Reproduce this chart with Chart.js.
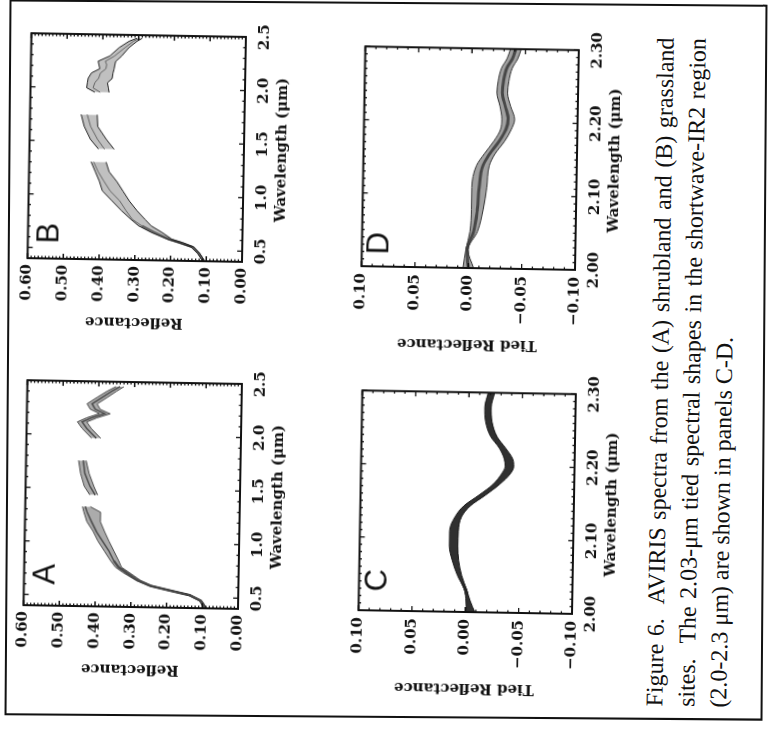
<!DOCTYPE html>
<html>
<head>
<meta charset="utf-8">
<script src="https://cdn.jsdelivr.net/npm/chart.js"></script>
<style>
html, body { margin: 0; padding: 0; background: #fff; overflow: hidden; }
#page { position: absolute; left: 0; top: 0; width: 729px; height: 770px;
        transform-origin: 0 0; transform: translate(0, 729px) rotate(-90deg); }
.panel { position: absolute; width: 345px; height: 278px;
         transform: rotate(1deg); transform-origin: 209px 119px; }
.panel canvas { position: absolute; left: 0; top: 0; }
.letter { position: absolute; font: 31px/1 "Liberation Sans", Arial, sans-serif; color: #111; }
#frame { position: absolute; left: 11px; top: 7px; width: 716px; height: 758px; box-sizing: border-box;
         border: 2px solid #111; transform: rotate(0.4deg); }
#caption { position: absolute; left: 22px; top: 644px; width: 669px; color: #111;
           font: 24px/32px "Liberation Serif", "Times New Roman", serif; white-space: nowrap;
           transform: rotate(1deg); transform-origin: 335px 48px; }
#caption .j { text-align: justify; text-align-last: justify; }
</style>
</head>
<body>
<div id="page">
  <div id="frame"></div>
  <div class="panel" style="left:27px;top:11.5px"><canvas id="chartA" width="345" height="278"></canvas><div class="letter" style="left:116px;top:18px">A</div></div>
  <div class="panel" style="left:374px;top:16px"><canvas id="chartB" width="345" height="278"></canvas><div class="letter" style="left:110px;top:18px">B</div></div>
  <div class="panel" style="left:22px;top:346px"><canvas id="chartC" width="345" height="278"></canvas><div class="letter" style="left:114px;top:16px">C</div></div>
  <div class="panel" style="left:365.5px;top:349px"><canvas id="chartD" width="345" height="278"></canvas><div class="letter" style="left:107px;top:15px">D</div></div>
  <div id="caption">
    <div class="j">Figure 6.&nbsp; AVIRIS spectra from the (A) shrubland and (B) grassland</div>
    <div class="j">sites.&nbsp; The 2.03-μm tied spectral shapes in the shortwave-IR2 region</div>
    <div>(2.0-2.3 μm) are shown in panels C-D.</div>
  </div>
</div>
<script>
// values (null = water absorption gaps)

// panel A, shrubland
const wlA = [0.40, 0.47, 0.52, 0.56, 0.60, 0.65, 0.72, 0.77, 0.83, 0.92, 1.01, 1.10, 1.19, 1.28, 1.33,
             1.39, 1.44, 1.52, 1.64, 1.76, 1.88, 1.97, 2.06, 2.12, 2.16, 2.20, 2.24, 2.29, 2.35, 2.41, 2.455];
const midA = [0.091, 0.105, 0.136, 0.191, 0.245, 0.282, 0.314, 0.336, 0.350, 0.364, 0.382, 0.400, 0.414, 0.427, 0.432,
              null, 0.405, 0.420, 0.435, 0.440, null, 0.405, 0.432, 0.445, 0.418, 0.382, 0.409, 0.418, 0.391, 0.364, 0.341];
const upperA = [0.095, 0.109, 0.140, 0.196, 0.250, 0.287, 0.323, 0.345, 0.359, 0.377, 0.395, 0.409, 0.427, 0.436, 0.440,
                null, 0.420, 0.436, 0.447, 0.453, null, 0.418, 0.445, 0.458, 0.432, 0.397, 0.423, 0.432, 0.405, 0.377, 0.352];
const lowerA = [0.087, 0.101, 0.132, 0.186, 0.240, 0.274, 0.305, 0.328, 0.336, 0.350, 0.364, 0.377, 0.389, 0.389, 0.418,
                null, 0.398, 0.409, 0.423, 0.432, null, 0.392, 0.419, 0.432, 0.404, 0.367, 0.395, 0.404, 0.377, 0.351, 0.330];

// panel B, grassland
const wlB = [0.40, 0.47, 0.53, 0.57, 0.60, 0.66, 0.72, 0.78, 0.86, 0.95, 1.04, 1.13, 1.22, 1.31,
             1.37, 1.43, 1.52, 1.64, 1.75, 1.86, 1.96, 2.00, 2.05, 2.09, 2.14, 2.18, 2.22, 2.25, 2.30, 2.38, 2.44, 2.47];
const midB = [0.107, 0.121, 0.139, 0.175, 0.205, 0.246, 0.282, 0.309, 0.327, 0.345, 0.372, 0.390, 0.407, 0.420,
              null, 0.390, 0.410, 0.430, 0.440, null, 0.405, 0.425, 0.420, 0.410, 0.405, 0.390, 0.388, 0.392, 0.367, 0.338, 0.315, 0.298];
const upperB = [0.110, 0.124, 0.143, 0.179, 0.210, 0.255, 0.291, 0.313, 0.340, 0.367, 0.394, 0.403, 0.415, 0.427,
                null, 0.407, 0.430, 0.448, 0.457, null, 0.420, 0.443, 0.441, 0.439, 0.430, 0.407, 0.410, 0.412, 0.380, 0.354, 0.327, 0.305];
const lowerB = [0.104, 0.118, 0.135, 0.166, 0.197, 0.224, 0.255, 0.273, 0.296, 0.318, 0.336, 0.354, 0.376, 0.385,
                null, 0.363, 0.385, 0.410, 0.412, null, 0.380, 0.382, 0.385, 0.372, 0.370, 0.367, 0.365, 0.363, 0.347, 0.327, 0.305, 0.290];

// panel C, shrubland tied at 2.03 um
const wlC = [2.00, 2.015, 2.03, 2.05, 2.07, 2.09, 2.11, 2.13, 2.145, 2.16, 2.175, 2.19, 2.20, 2.21, 2.225, 2.24, 2.26, 2.28, 2.30];
const midC = [-0.005, -0.0025, 0.0, 0.006, 0.010, 0.012, 0.0118, 0.008, 0.0, -0.014, -0.027, -0.036, -0.039, -0.038, -0.032, -0.024, -0.019, -0.018, -0.021];
const upperC = [-0.001, -0.0005, 0.001, 0.008, 0.013, 0.016, 0.016, 0.011, 0.003, -0.011, -0.024, -0.032, -0.035, -0.034, -0.029, -0.021, -0.016, -0.015, -0.018];
const lowerC = [-0.009, -0.0045, -0.001, 0.004, 0.007, 0.008, 0.0078, 0.005, -0.003, -0.017, -0.030, -0.040, -0.043, -0.042, -0.035, -0.027, -0.022, -0.021, -0.024];

// panel D, grassland tied at 2.03 um
const wlD = [2.00, 2.025, 2.05, 2.08, 2.11, 2.14, 2.156, 2.174, 2.19, 2.204, 2.222, 2.24, 2.256, 2.274, 2.287, 2.30];
const midD = [0.0, 0.0015, -0.0045, -0.0076, -0.009, -0.012, -0.018, -0.027, -0.033, -0.035, -0.032, -0.029, -0.030, -0.033, -0.038, -0.041];
const upperD = [0.005, 0.0025, -0.001, -0.002, -0.002, -0.006, -0.013, -0.022, -0.028, -0.029, -0.027, -0.024, -0.025, -0.028, -0.033, -0.036];
const lowerD = [-0.005, 0.0005, -0.008, -0.013, -0.016, -0.018, -0.023, -0.032, -0.038, -0.041, -0.037, -0.034, -0.035, -0.038, -0.043, -0.046];

// tick labels
const wlTicksFull = [0.5, 1.0, 1.5, 2.0, 2.5];
const reflTicks = [0.0, 0.1, 0.2, 0.3, 0.4, 0.5, 0.6];
const wlTicksSwir = [2.0, 2.1, 2.2, 2.3];
const tiedTicks = [-0.10, -0.05, 0.0, 0.05, 0.10];

const ink = '#111';
const tickFont = { family: 'DejaVu Serif', weight: 'bold', size: 15, lineHeight: 1 };
const titleFont = { family: 'DejaVu Serif', weight: 'bold', size: 15, lineHeight: 1 };

function fmt(v, digits) {
  const s = Math.abs(v).toFixed(digits);
  return v < -1e-9 ? '\u2212' + s : s;
}

// closed box with inward major/minor ticks on all four sides
const boxTicks = {
  id: 'boxTicks',
  afterDatasetsDraw(chart, args, o) {
    const { ctx, chartArea: a, scales } = chart;
    ctx.save();
    ctx.strokeStyle = ink;
    ctx.lineWidth = 1.3;
    ['x', 'y'].forEach(k => {
      const s = scales[k];
      const step = o[k + 'Minor'];
      const major = o[k + 'Major'];
      const n = Math.round((s.max - s.min) / step);
      for (let i = 0; i <= n; i++) {
        const v = s.min + i * step;
        const len = major.some(m => Math.abs(m - v) < step / 10) ? 5 : 2.5;
        const p = s.getPixelForValue(v);
        ctx.beginPath();
        if (k === 'x') {
          ctx.moveTo(p, a.bottom); ctx.lineTo(p, a.bottom - len);
          ctx.moveTo(p, a.top); ctx.lineTo(p, a.top + len);
        } else {
          ctx.moveTo(a.left, p); ctx.lineTo(a.left + len, p);
          ctx.moveTo(a.right, p); ctx.lineTo(a.right - len, p);
        }
        ctx.stroke();
      }
    });
    ctx.lineWidth = 2;
    ctx.strokeRect(a.left, a.top, a.right - a.left, a.bottom - a.top);
    ctx.restore();
  }
};

function bandSets(wl, lower, upper, mid, st) {
  const pts = arr => wl.map((x, i) => ({ x: x, y: arr[i] }));
  const common = { pointRadius: 0, tension: 0, cubicInterpolationMode: st.smooth ? 'monotone' : 'default' };
  // the visible-red part of the spectra is drawn as one heavy black line
  const midWidth = c => (st.heavyUntil && c.p0.parsed.x < st.heavyUntil ? 2.4 : st.midW);
  return [
    Object.assign({ data: pts(lower), borderColor: st.edge, borderWidth: 1, fill: false }, common),
    Object.assign({ data: pts(upper), borderColor: st.edge, borderWidth: 1, fill: '-1', backgroundColor: st.fill }, common),
    Object.assign({ data: pts(mid), borderColor: st.mid, borderWidth: st.midW, fill: false,
                    segment: { borderWidth: midWidth } }, common)
  ];
}

function makeChart(id, p) {
  new Chart(document.getElementById(id), {
    type: 'line',
    data: { datasets: bandSets(p.wl, p.lower, p.upper, p.mid, p.style) },
    plugins: [boxTicks],
    options: {
      responsive: false,
      animation: false,
      events: [],
      layout: { padding: { left: 0, top: 10, right: 22, bottom: 0 } },
      plugins: {
        legend: { display: false },
        tooltip: { enabled: false },
        boxTicks: { xMajor: p.xTicks, xMinor: p.xMinor, yMajor: p.yTicks, yMinor: p.yMinor }
      },
      scales: {
        x: {
          type: 'linear', min: p.xMin, max: p.xMax,
          grid: { display: false, drawTicks: false },
          border: { display: false },
          afterBuildTicks: s => { s.ticks = p.xTicks.map(v => ({ value: v })); },
          afterFit: s => { s.height = 50; },
          ticks: { padding: 12, font: tickFont, color: ink, maxRotation: 0, autoSkip: false,
                   callback: v => fmt(v, p.xDigits) },
          title: { display: true, text: 'Wavelength (μm)', font: titleFont, color: ink,
                   padding: { top: 0, bottom: 4 } }
        },
        y: {
          type: 'linear', min: p.yMin, max: p.yMax,
          grid: { display: false, drawTicks: false },
          border: { display: false },
          afterBuildTicks: s => { s.ticks = p.yTicks.map(v => ({ value: v })); },
          afterFit: s => { s.width = 95; },
          ticks: { padding: p.yPad, font: tickFont, color: ink, autoSkip: false,
                   callback: v => fmt(v, 2) },
          title: { display: true, text: p.yTitle, font: titleFont, color: ink,
                   padding: { top: p.yTitlePad, bottom: 0 } }
        }
      }
    }
  });
}

makeChart('chartA', { wl: wlA, lower: lowerA, upper: upperA, mid: midA,
  style: { edge: '#4a4a4a', fill: 'rgba(115,115,115,0.6)', mid: '#111', midW: 1.5, heavyUntil: 0.8, smooth: false },
  xMin: 0.4, xMax: 2.5, xTicks: wlTicksFull, xMinor: 0.1, xDigits: 1,
  yMin: 0, yMax: 0.6, yTicks: reflTicks, yMinor: 0.01,
  yTitle: 'Reflectance', yTitlePad: 26, yPad: 6 });

makeChart('chartB', { wl: wlB, lower: lowerB, upper: upperB, mid: midB,
  style: { edge: '#222', fill: 'rgba(130,130,130,0.5)', mid: '#444', midW: 1, heavyUntil: 0.7, smooth: false },
  xMin: 0.4, xMax: 2.5, xTicks: wlTicksFull, xMinor: 0.1, xDigits: 1,
  yMin: 0, yMax: 0.6, yTicks: reflTicks, yMinor: 0.01,
  yTitle: 'Reflectance', yTitlePad: 26, yPad: 6 });

makeChart('chartC', { wl: wlC, lower: lowerC, upper: upperC, mid: midC,
  style: { edge: '#1a1a1a', fill: '#303030', mid: '#000', midW: 3, smooth: true },
  xMin: 2.0, xMax: 2.3, xTicks: wlTicksSwir, xMinor: 0.01, xDigits: 2,
  yMin: -0.1, yMax: 0.1, yTicks: tiedTicks, yMinor: 0.01,
  yTitle: 'Tied Reflectance', yTitlePad: 12, yPad: 7 });

makeChart('chartD', { wl: wlD, lower: lowerD, upper: upperD, mid: midD,
  style: { edge: '#333', fill: 'rgba(110,110,110,0.65)', mid: '#000', midW: 3, smooth: true },
  xMin: 2.0, xMax: 2.3, xTicks: wlTicksSwir, xMinor: 0.01, xDigits: 2,
  yMin: -0.1, yMax: 0.1, yTicks: tiedTicks, yMinor: 0.01,
  yTitle: 'Tied Reflectance', yTitlePad: 12, yPad: 7 });
</script>
</body>
</html>
